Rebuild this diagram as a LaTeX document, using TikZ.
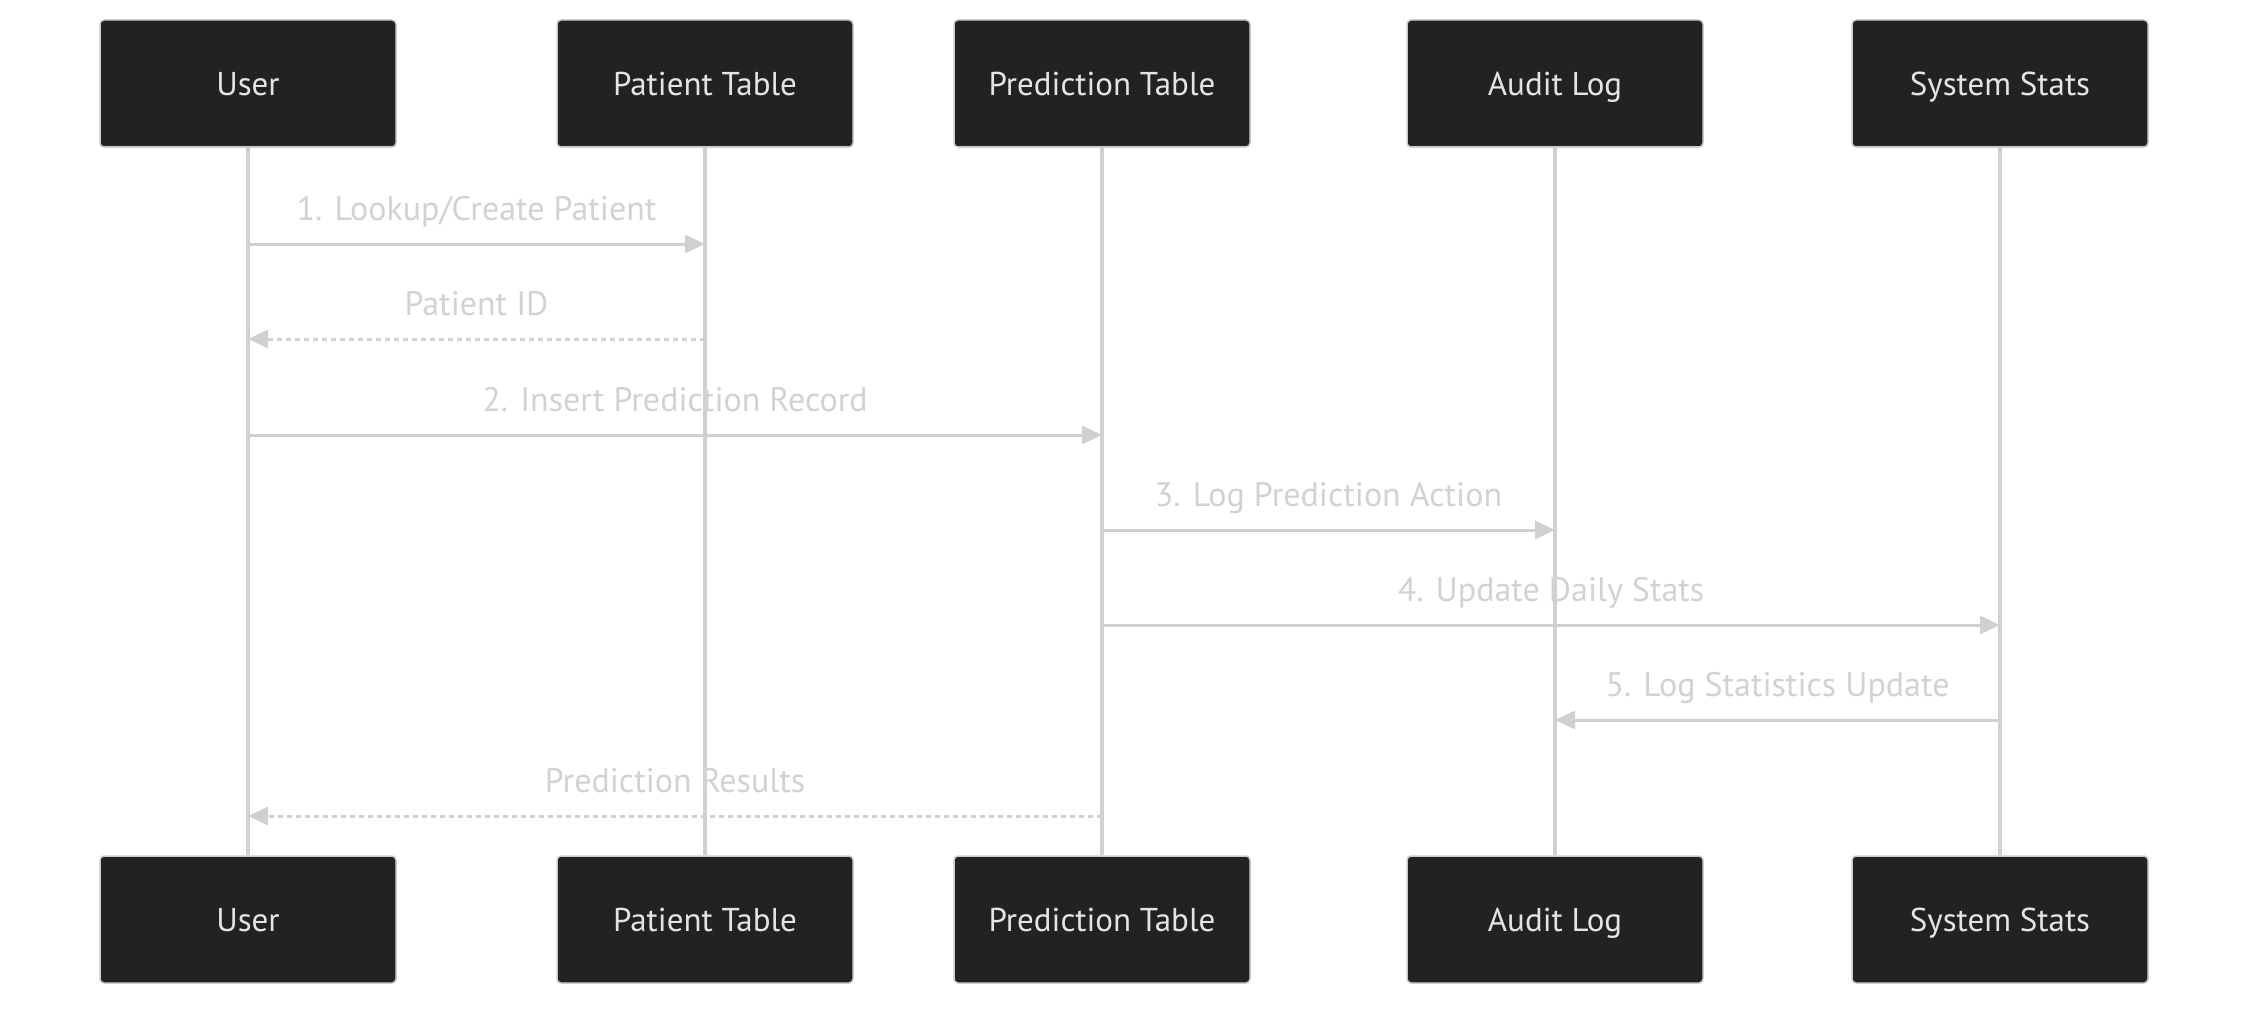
\documentclass[tikz,border=0pt]{standalone}
\usepackage{fontspec}
\setmainfont{PT Sans}
\usetikzlibrary{arrows.meta}
\definecolor{boxfill}{HTML}{212322}
\definecolor{boxline}{HTML}{CCCCCC}
\definecolor{boxtext}{HTML}{E4E4E4}
\definecolor{linec}{HTML}{D0D0D0}
\definecolor{labc}{HTML}{D2D2D2}
\tikzset{
  actor/.style={draw=boxline, line width=1.5pt, fill=boxfill, rounded corners=4pt,
    minimum width=296pt, minimum height=127pt, inner sep=0pt,
    text height=30pt, text depth=6pt,
    text=boxtext, font=\fontsize{33}{38}\selectfont},
  lifeline/.style={draw=linec, line width=3.5pt},
  msg/.style={draw=linec, line width=3pt, -{Triangle[length=20pt,width=18pt]}, color=linec},
  reply/.style={msg, dash pattern=on 5pt off 4pt},
  msglabel/.style={text=labc, font=\fontsize{34}{38}\selectfont, inner sep=0pt,
    text height=30pt, text depth=6pt}
}
\begin{document}
\begin{tikzpicture}[x=1pt,y=-1pt]
\useasboundingbox[fill=white] (0,0) rectangle (2264,1014);
% top actors
\node[actor] (u)  at (248,83.5)  {User};
\node[actor] (p)  at (705,83.5)  {Patient Table};
\node[actor] (r)  at (1102,83.5) {Prediction Table};
\node[actor] (a)  at (1555,83.5) {Audit Log};
\node[actor] (s)  at (2000,83.5) {System Stats};
% bottom actors
\node[actor] (ub) at (248,919.5)  {User};
\node[actor] (pb) at (705,919.5)  {Patient Table};
\node[actor] (rb) at (1102,919.5) {Prediction Table};
\node[actor] (ab) at (1555,919.5) {Audit Log};
\node[actor] (sb) at (2000,919.5) {System Stats};
% lifelines
\draw[lifeline] (u.south) -- (ub.north);
\draw[lifeline] (p.south) -- (pb.north);
\draw[lifeline] (r.south) -- (rb.north);
\draw[lifeline] (a.south) -- (ab.north);
\draw[lifeline] (s.south) -- (sb.north);
% message rows
\foreach \n/\y in {1/244,2/339,3/435,4/530,5/625,6/720,7/816}{
  \coordinate (u\n) at (u.south |- 0,\y);
  \coordinate (p\n) at (p.south |- 0,\y);
  \coordinate (r\n) at (r.south |- 0,\y);
  \coordinate (a\n) at (a.south |- 0,\y);
  \coordinate (s\n) at (s.south |- 0,\y);
}
\draw[msg] (u1) -- (p1) node[msglabel, midway, yshift=36pt] (l1) {1. Lookup/Create Patient};
\draw[reply] (p2) -- (u2) node[msglabel, midway, yshift=36pt] (l2) {Patient ID};
\draw[msg] (u3) -- (r3) node[msglabel, midway, yshift=36pt] (l3) {2. Insert Prediction Record};
\draw[msg] (r4) -- (a4) node[msglabel, midway, yshift=36pt] (l4) {3. Log Prediction Action};
\draw[msg] (r5) -- (s5) node[msglabel, midway, yshift=36pt] (l5) {4. Update Daily Stats};
\draw[msg] (s6) -- (a6) node[msglabel, midway, yshift=36pt] (l6) {5. Log Statistics Update};
\draw[reply] (r7) -- (u7) node[msglabel, midway, yshift=36pt] (l7) {Prediction Results};
\end{tikzpicture}
\end{document}
